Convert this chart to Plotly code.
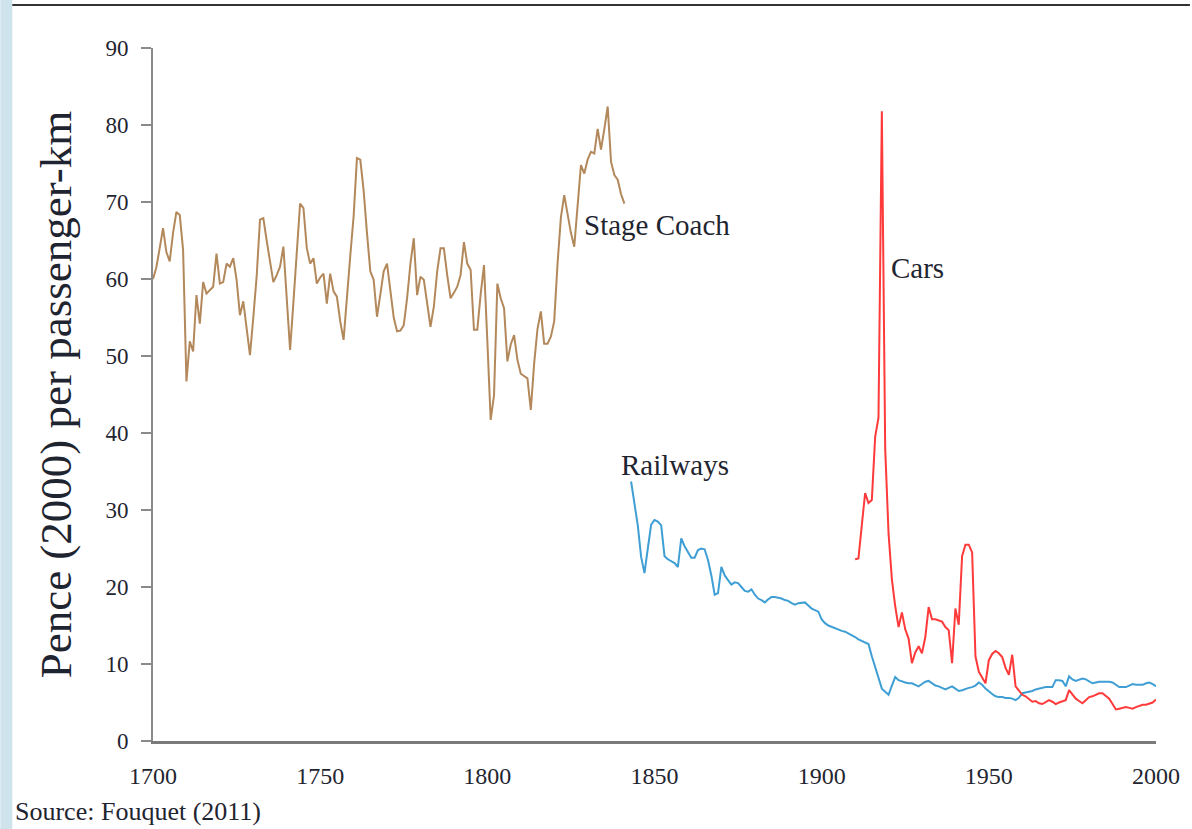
import plotly.graph_objects as go

# ── data ─────────────────────────────────────────────────────────────

coach_years = list(range(1700, 1842))
coach_price = [
    60.0, 61.5, 64.0, 66.6, 63.5, 62.3, 66.0, 68.7, 68.3, 63.8,
    46.7, 51.9, 50.6, 57.9, 54.2, 59.6, 58.1, 58.6, 59.0, 63.3,
    59.4, 59.6, 62.0, 61.6, 62.7, 59.9, 55.3, 57.1, 53.5, 50.1,
    55.0, 60.3, 67.7, 67.9, 65.0, 62.0, 59.6, 60.5, 61.6, 64.2,
    57.0, 50.8, 57.0, 64.0, 69.8, 69.2, 64.0, 62.0, 62.7, 59.4,
    60.2, 60.7, 56.8, 60.7, 58.4, 57.7, 54.5, 52.1, 57.0, 63.0,
    68.1, 75.7, 75.5, 71.5, 66.0, 61.0, 59.9, 55.1, 58.0, 61.0,
    62.0, 58.5, 55.0, 53.2, 53.3, 54.0, 57.5, 62.0, 65.3, 57.9,
    60.3, 59.9, 57.0, 53.8, 56.4, 61.0, 64.0, 64.0, 60.5, 57.5,
    58.2, 59.0, 60.5, 64.8, 62.0, 61.2, 53.4, 53.4, 58.0, 61.8,
    52.0, 41.7, 44.9, 59.4, 57.5, 56.2, 49.3, 51.5, 52.7, 49.5,
    47.7, 47.4, 47.1, 43.0, 49.0, 53.5, 55.8, 51.6, 51.6, 52.5,
    54.5, 62.0, 68.0, 70.9, 68.5, 66.0, 64.2, 70.0, 74.8, 73.7,
    75.5, 76.5, 76.3, 79.5, 76.8, 79.5, 82.4, 75.2, 73.5, 72.9,
    71.0, 69.8,
]

rail_years = list(range(1843, 2001))
rail_price = [
    33.7, 30.5, 28.0, 23.9, 21.8, 25.0, 28.1,
    28.7, 28.5, 28.0, 24.0, 23.6, 23.4, 23.1, 22.6, 26.3, 25.3,
    24.5, 23.8, 23.8, 24.8, 25.0, 24.9, 23.5, 21.5, 19.0, 19.2,
    22.6, 21.5, 20.9, 20.3, 20.6, 20.5, 20.0, 19.5, 19.4, 19.7,
    19.0, 18.5, 18.3, 18.0, 18.4, 18.7, 18.7, 18.6, 18.5, 18.3,
    18.2, 17.9, 17.7, 17.9, 18.0, 18.0, 17.6, 17.2, 17.0, 16.8,
    15.8, 15.3, 15.0, 14.8, 14.7, 14.5, 14.3, 14.2, 14.0, 13.8,
    13.5, 13.2, 13.0, 12.8, 12.6, 11.0, 9.5, 8.0, 6.8, 6.4,
    6.0, 7.2, 8.3, 7.9, 7.7, 7.6, 7.5, 7.5, 7.3, 7.1,
    7.4, 7.7, 7.8, 7.5, 7.2, 7.1, 6.9, 6.7, 6.9, 7.1,
    6.8, 6.5, 6.6, 6.8, 6.9, 7.0, 7.2, 7.6, 7.3, 6.8,
    6.4, 6.1, 5.8, 5.7, 5.7, 5.6, 5.6, 5.5, 5.3, 5.6,
    6.2, 6.3, 6.4, 6.5, 6.7, 6.8, 6.9, 7.0, 7.0, 7.0,
    7.9, 7.9, 7.8, 7.1, 8.4, 8.0, 7.8, 8.0, 8.1, 8.0,
    7.8, 7.5, 7.6, 7.7, 7.7, 7.7, 7.7, 7.6, 7.3, 7.0,
    7.0, 7.0, 7.2, 7.4, 7.3, 7.3, 7.3, 7.5, 7.6, 7.4,
    7.1,
]

car_years = list(range(1910, 2001))
car_price = [
    23.6, 23.7, 28.0, 32.2, 30.9, 31.3, 39.5, 42.0, 81.8, 38.0,
    27.0, 21.0, 17.5, 14.8, 16.7, 14.5, 13.3, 10.1, 11.5, 12.3,
    11.4, 13.5, 17.4, 15.8, 15.8, 15.6, 15.5, 14.8, 14.4, 10.1,
    17.2, 15.1, 24.0, 25.5, 25.5, 24.5, 11.0, 9.0, 8.3, 7.5,
    10.5, 11.3, 11.7, 11.4, 10.9, 9.5, 8.6, 11.2, 7.1, 6.5,
    6.0, 5.8, 5.4, 5.1, 5.2, 4.9, 4.8, 5.0, 5.3, 5.1,
    4.8, 5.0, 5.2, 5.3, 6.6, 6.0, 5.5, 5.2, 4.9, 5.3,
    5.7, 5.8, 6.0, 6.2, 6.2, 5.9, 5.5, 4.8, 4.1, 4.2,
    4.3, 4.4, 4.3, 4.2, 4.4, 4.6, 4.7, 4.7, 4.9, 5.0,
    5.4,
]

x_ticks = [1700, 1750, 1800, 1850, 1900, 1950, 2000]
y_ticks = [0, 10, 20, 30, 40, 50, 60, 70, 80, 90]

# ── chart ────────────────────────────────────────────────────────────

SERIF = "Liberation Serif, Times New Roman, serif"
TEXT = "#1f2530"
STRIP = "#cfe3ec"

fig = go.Figure()
fig.add_trace(go.Scatter(x=coach_years, y=coach_price, mode="lines",
                         line={"color": "#b3895c", "width": 2}))
fig.add_trace(go.Scatter(x=rail_years, y=rail_price, mode="lines",
                         line={"color": "#3f9fd5", "width": 2}))
fig.add_trace(go.Scatter(x=car_years, y=car_price, mode="lines",
                         line={"color": "#ff3a3a", "width": 2}))

labels = [("Stage Coach", 1828.4, 67.0), ("Railways", 1839.4, 35.9), ("Cars", 1920.0, 61.4)]
for text, x, y in labels:
    fig.add_annotation(x=x, y=y, text=text, showarrow=False, xanchor="left",
                       font={"family": SERIF, "size": 29, "color": TEXT})


# plot area is 1005 x 693 px; paper coords from pixel positions
def px(x):
    return (x - 153) / 1005


def py(y):
    return (741 - y) / 693


fig.add_shape(type="line", xref="paper", yref="paper", x0=px(12), x1=px(1192), y0=py(5), y1=py(5),
              line={"color": "#333333", "width": 2})
# slide's left edge strip
fig.add_shape(type="rect", xref="paper", yref="paper", x0=px(0), x1=px(12), y0=py(829), y1=py(0),
              fillcolor=STRIP, line={"width": 0}, layer="below")
fig.add_annotation(xref="paper", yref="paper", x=px(13), y=py(812), text="Source: Fouquet (2011)",
                   showarrow=False, xanchor="left", yanchor="middle",
                   font={"family": SERIF, "size": 26, "color": TEXT})

fig.update_xaxes(range=[1700, 2000], tickvals=x_ticks, showgrid=False, zeroline=False,
                 showline=True, linecolor="#7a7a7a", linewidth=3,
                 ticks="outside", ticklen=11, tickcolor="rgba(0,0,0,0)",
                 tickfont={"family": SERIF, "size": 24, "color": TEXT})
fig.update_yaxes(range=[0, 90], tickvals=y_ticks, showgrid=False, zeroline=False,
                 showline=True, linecolor="#8a8a8a", linewidth=2,
                 ticks="outside", ticklen=10, tickcolor="#8a8a8a", tickwidth=2,
                 ticklabelstandoff=8,
                 tickfont={"family": SERIF, "size": 23, "color": TEXT},
                 title={"text": "Pence (2000) per passenger-km", "standoff": 20,
                        "font": {"family": SERIF, "size": 45, "color": TEXT}})
fig.update_layout(width=1192, height=829, showlegend=False,
                  margin={"l": 153, "r": 34, "t": 48, "b": 88},
                  paper_bgcolor="white", plot_bgcolor="white")

fig.write_html("out.html", config={"displayModeBar": False},
               post_script="document.body.style.margin='0';")
